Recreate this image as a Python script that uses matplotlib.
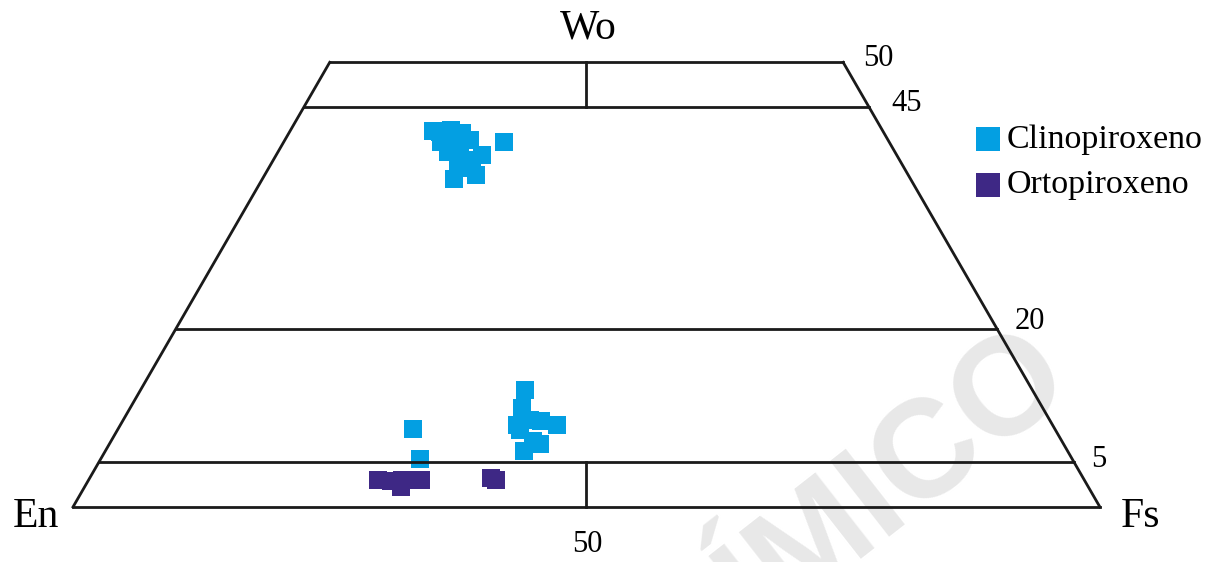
import numpy as np
import matplotlib
matplotlib.use("Agg")
import matplotlib.pyplot as plt

# === DATA (composicao em % molar: Wo, Fs; En = 100 - Wo - Fs) ===
cpx_wo = [42.3, 42.4, 41.0, 36.9, 37.3, 39.6, 41.3, 42.0, 41.0, 39.9, 40.1, 39.0,
          38.4, 38.1, 42.2, 40.7,
          8.8, 5.4, 13.2, 11.1, 9.2, 9.7, 9.2, 8.7, 7.4, 7.1, 6.3, 9.8]
cpx_fs = [13.9, 15.6, 21.5, 18.7, 20.6, 20.0, 18.0, 16.9, 15.3, 16.6, 17.6, 19.4,
          18.3, 19.2, 14.6, 16.5,
          28.7, 31.1, 37.4, 38.2, 38.6, 40.7, 42.5, 39.2, 41.1, 41.9, 40.8, 39.6]
opx_wo = [3.0, 2.9, 3.0, 3.0, 3.0, 2.3, 3.3, 3.0]
opx_fs = [28.2, 29.5, 30.5, 31.5, 32.4, 30.8, 39.1, 39.7]

wo_lines = [5, 20, 45, 50]
wo_labels = ["5", "20", "45", "50"]
series = ["Clinopiroxeno", "Ortopiroxeno"]
colors = ["#039fe2", "#3e2885"]

H = np.sqrt(3) / 2


def tern(fs, wo):
    fs = np.asarray(fs, float)
    wo = np.asarray(wo, float)
    return fs + wo / 2, wo * H


fig = plt.figure(figsize=(12.19, 5.62), dpi=100)
ax = fig.add_axes([0, 0, 1, 1])
ax.set_xlim(-7.11, 111.6)
ax.set_ylim(-5.36, 49.37)
ax.axis("off")

serif = "Liberation Serif"

# marca d'agua (cortada pela borda, como no original)
ax.text(71.5, -3.0, "QUÍMICO", rotation=38, fontsize=100, fontweight="bold",
        family="Liberation Sans", color="#e8e8e8", ha="center", va="center",
        rotation_mode="anchor", zorder=0)

# pontos
sx, sy = tern(cpx_fs, cpx_wo)
ax.scatter(sx, sy, s=180, marker="s", color=colors[0], linewidths=0, zorder=2)
sx, sy = tern(opx_fs, opx_wo)
ax.scatter(sx, sy, s=180, marker="s", color=colors[1], linewidths=0, zorder=2)

# quadrilatero
lw = 2
x0, y0 = tern([0, 100], [0, 0])
ax.plot(x0, y0, color="#1a1a1a", lw=lw, zorder=3)
for w in wo_lines:
    x, y = tern([0, 100 - w], [w, w])
    ax.plot(x, y, color="#1a1a1a", lw=lw, zorder=3)
x, y = tern([0, 0], [0, 50])
ax.plot(x, y, color="#1a1a1a", lw=lw, zorder=3)
x, y = tern([100, 50], [0, 50])
ax.plot(x, y, color="#1a1a1a", lw=lw, zorder=3)
# linhas centrais
x, y = tern([25, 27.5], [50, 45])
ax.plot(x, y, color="#1a1a1a", lw=lw, zorder=3)
x, y = tern([50, 47.5], [0, 5])
ax.plot(x, y, color="#1a1a1a", lw=lw, zorder=3)

# rotulos Wo
lab_off = {50: (3.4, 0.4), 45: (3.7, 0.3), 20: (3.2, 0.7), 5: (2.4, 0.3)}
for w, lab in zip(wo_lines, wo_labels):
    x, y = tern([100 - w], [w])
    dx, dy = lab_off[w]
    ax.text(x[0] + dx, y[0] + dy, lab, family=serif, fontsize=22,
            ha="center", va="center")
ax.text(50.1, -3.7, "50", family=serif, fontsize=22, ha="center", va="center")

ax.text(50.2, 46.6, "Wo", family=serif, fontsize=30, ha="center", va="center")
ax.text(-3.6, -1.0, "En", family=serif, fontsize=30, ha="center", va="center")
ax.text(104.0, -1.0, "Fs", family=serif, fontsize=30, ha="center", va="center")

# legenda
for i, (lab, c) in enumerate(zip(series, colors)):
    ly = 35.8 - i * 4.4
    ax.scatter([89.1], [ly], s=300, marker="s", color=c, linewidths=0)
    ax.text(90.9, ly, lab, family=serif, fontsize=24.5, ha="left", va="center")

fig.savefig("out.png", dpi=100)
